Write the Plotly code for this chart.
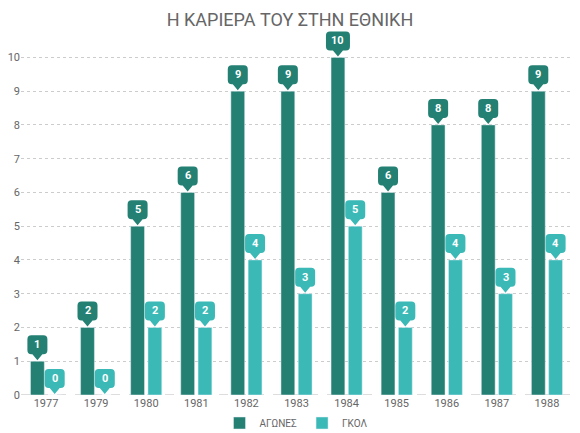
import plotly.graph_objects as go

years = ["1977", "1979", "1980", "1981", "1982", "1983", "1984", "1985", "1986", "1987", "1988"]
matches = [1, 2, 5, 6, 9, 9, 10, 6, 8, 8, 9]
goals = [0, 0, 2, 2, 4, 3, 5, 2, 4, 3, 4]
series_names = ["ΑΓΩΝΕΣ", "ΓΚΟΛ"]
title_text = "Η ΚΑΡΙΕΡΑ ΤΟΥ ΣΤΗΝ ΕΘΝΙΚΗ"

DARK = "#238073"
LIGHT = "#3ab9b6"
BARGAP = 0.31
BARGROUPGAP = 0.2

xs = list(range(len(years)))
fig = go.Figure()
fig.add_trace(go.Bar(x=xs, y=matches, name=series_names[0], marker_color=DARK))
fig.add_trace(go.Bar(x=xs, y=goals, name=series_names[1], marker_color=LIGHT))

slot = (1 - BARGAP) / 2
offsets = [-slot / 2, slot / 2]
colors = [DARK, LIGHT]
H, PH, PW, R = 19, 6, 5, 4

def callout_path(w):
    hw = w / 2
    b = 1 + PH
    t = b + H
    return (f"M0,1 L{PW},{b} L{hw - R},{b} Q{hw},{b} {hw},{b + R} "
            f"L{hw},{t - R} Q{hw},{t} {hw - R},{t} L{-hw + R},{t} "
            f"Q{-hw},{t} {-hw},{t - R} L{-hw},{b + R} Q{-hw},{b} {-hw + R},{b} "
            f"L{-PW},{b} Z")

shapes = []
annotations = []
for si, vals in enumerate([matches, goals]):
    for i, v in zip(xs, vals):
        xc = i + offsets[si]
        w = 20 if v < 10 else 24
        shapes.append(dict(type="path", xref="x", yref="y", xsizemode="pixel", ysizemode="pixel",
                           xanchor=xc, yanchor=v, path=callout_path(w),
                           fillcolor=colors[si], line=dict(width=0), layer="above"))
        annotations.append(dict(x=xc, y=v, xref="x", yref="y", text=f"<b>{v}</b>", showarrow=False,
                                yshift=1 + PH + H / 2, yanchor="middle",
                                font=dict(color="white", size=11, family="Roboto")))

shapes.append(dict(type="line", xref="paper", yref="y", x0=0, x1=1, y0=0, y1=0,
                   line=dict(color="#bbbbbb", width=1, dash="dash"), layer="below"))

fig.update_layout(
    width=580, height=433,
    margin=dict(l=21, r=8, t=27, b=38),
    paper_bgcolor="white", plot_bgcolor="white",
    barmode="group", bargap=BARGAP, bargroupgap=BARGROUPGAP,
    title=dict(text=title_text, x=0.5, xanchor="center", y=1 - 20 / 433, yanchor="middle",
               font=dict(size=18, color="#666666", family="Roboto")),
    font=dict(family="Roboto", color="#666666", size=11),
    shapes=shapes, annotations=annotations,
    legend=dict(orientation="h", x=0.5, xanchor="center", yref="container", y=10 / 433, yanchor="middle",
                font=dict(size=10, color="#666666"), itemwidth=30),
    showlegend=True,
)
fig.update_xaxes(tickmode="array", tickvals=xs, ticktext=years, range=[-0.5, len(years) - 0.5],
                 showgrid=False, zeroline=False, showline=False, ticks="", automargin=False,
                 tickfont=dict(size=11, color="#666666"))
fig.update_yaxes(range=[0, 10.9], dtick=1, tick0=0, showgrid=True, gridcolor="#cccccc", griddash="dot",
                 zeroline=False, showline=False, ticks="", automargin=False,
                 tickfont=dict(size=11, color="#666666"))

fig.write_html("out.html", config={"displayModeBar": False},
               post_script="document.body.style.margin='0';document.body.style.overflow='hidden';")
